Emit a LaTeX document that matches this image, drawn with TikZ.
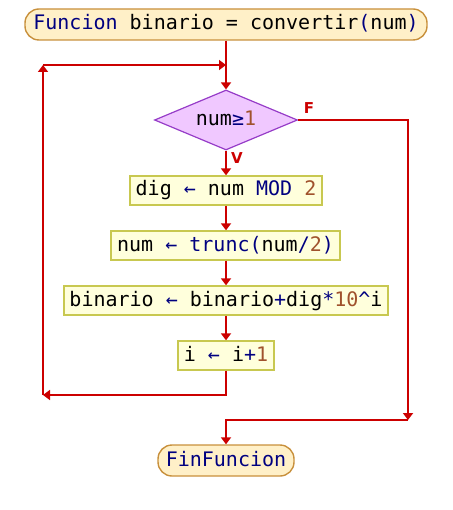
\documentclass[tikz,border=0pt]{standalone}
\usepackage{fontspec}
\setmonofont{DejaVu Sans Mono}
\newfontfamily\labfont{DejaVu Sans}
\usetikzlibrary{shapes.geometric,arrows.meta}
\definecolor{kw}{RGB}{0,0,128}
\definecolor{nm}{RGB}{160,82,45}
\definecolor{flow}{RGB}{204,0,0}
\definecolor{boxfill}{RGB}{255,255,220}
\definecolor{boxline}{RGB}{200,200,80}
\definecolor{termfill}{RGB}{255,240,200}
\definecolor{termline}{RGB}{200,144,60}
\definecolor{decfill}{RGB}{240,200,255}
\definecolor{decline}{RGB}{150,60,200}
\newcommand{\K}[1]{\textcolor{kw}{#1}}
\newcommand{\N}[1]{\textcolor{nm}{#1}}
\tikzset{
  txt/.style={font=\ttfamily\fontsize{20}{24}\selectfont, inner sep=0pt, text height=15pt, text depth=4pt},
  procbox/.style={txt, draw=boxline, fill=boxfill, line width=1.4pt, minimum height=29pt},
  termbox/.style={txt, draw=termline, fill=termfill, line width=1.4pt, rounded corners=14pt, minimum height=31pt},
  decbox/.style={txt, diamond, aspect=2.4, draw=decline, fill=decfill, line width=1.2pt, minimum width=143pt, minimum height=60pt},
  conn/.style={draw=flow, line width=2.8pt},
  arr/.style={conn, -{Triangle[width=10pt,length=7pt]}},
  lab/.style={font=\labfont\bfseries\fontsize{15}{17}\selectfont, text=flow, inner sep=0pt}
}
\begin{document}
\begin{tikzpicture}[x=1pt,y=-1pt]
\useasboundingbox (0,0) rectangle (452,510);
\node[termbox, minimum width=402pt] (top) at (226,24.5) {\K{Funcion} binario = convertir\K{(}num\K{)}};
\node[decbox] (dec) at (226,120) {num\K{≥}\N{1}};
\node[procbox, minimum width=192pt] (dig) at (226,190.5) {dig \K{←} num \K{MOD} \N{2}};
\node[procbox, minimum width=229pt] (num) at (225.5,245.5) {num \K{←} \K{trunc(}num\K{/}\N{2}\K{)}};
\node[procbox, minimum width=324pt] (bin) at (226,300.5) {binario \K{←} binario\K{+}dig\K{*}\N{10}\K{\^{}}i};
\node[procbox, minimum width=96pt] (inc) at (226,355.5) {i \K{←} i\K{+}\N{1}};
\node[termbox, minimum width=136pt] (fin) at (226,460.5) {\K{FinFuncion}};
\node[lab] (lf) at (309,108) {F};
\node[lab] (lv) at (237,158) {V};
\coordinate (lb1) at (226,395);
\coordinate (lb2) at (43,395);
\coordinate (lb3) at (43,65);
\coordinate (lb4) at (226,65);
\coordinate (fr1) at (408,120);
\coordinate (fr2) at (408,420);
\coordinate (fr3) at (226,420);
\draw[arr] (top.south) -- (dec.north);
\draw[arr] (dec.south) -- (dig.north);
\draw[arr] (dig.south) -- (num.north -| dig.south);
\draw[arr] (num.south -| dig.south) -- (bin.north);
\draw[arr] (bin.south) -- (inc.north);
\draw[arr] (inc.south) -- (lb1) -- (lb2);
\draw[arr] (lb2) -- (lb3);
\draw[arr] (lb3) -- (lb4);
\draw[arr] (dec.east) -- (fr1) -- (fr2);
\draw[arr] (fr2) -- (fr3) -- (fin.north);
\end{tikzpicture}
\end{document}
